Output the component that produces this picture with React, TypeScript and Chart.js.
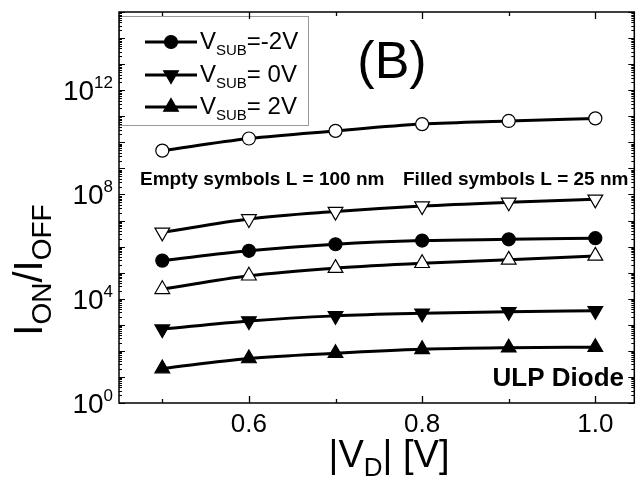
import React, { useEffect, useRef } from 'react';
import { Chart, registerables } from 'chart.js';
Chart.register(...registerables);

// |V_D| [V]
const vdValues = [0.5, 0.6, 0.7, 0.8, 0.9, 1.0];
// L = 100 nm (empty symbols)
const empty_m2V = [4.8e9, 1.4e10, 2.75e10, 5.0e10, 6.6e10, 8.3e10];
const empty_0V = [3.5e6, 1.15e7, 2.2e7, 3.6e7, 5.0e7, 6.5e7];
const empty_p2V = [2.3e4, 7.6e4, 1.5e5, 2.3e5, 3.1e5, 4.4e5];
// L = 25 nm (filled symbols)
const filled_m2V = [2.9e5, 6.9e5, 1.23e6, 1.7e6, 1.9e6, 2.1e6];
const filled_0V = [680, 1400, 2200, 2750, 3150, 3450];
const filled_p2V = [21, 51, 81, 115, 132, 138];

const xTickValues = [0.6, 0.8, 1.0];
const xTickLabels = ['0.6', '0.8', '1.0'];
const xMinorTicks = [0.5, 0.7, 0.9];
const yLabelExponents = [0, 4, 8, 12];
const legendLabels = ['=-2V', '= 0V', '= 2V'];

const FONT = '"Liberation Sans", Arial, Helvetica, sans-serif';

type Seg = { t: string; size: number; dy: number; bold?: boolean };

function segWidth(ctx: CanvasRenderingContext2D, segs: Seg[]) {
  let w = 0;
  for (const s of segs) {
    ctx.font = `${s.bold ? 'bold ' : ''}${s.size}px ${FONT}`;
    w += ctx.measureText(s.t).width;
  }
  return w;
}
function drawSegs(ctx: CanvasRenderingContext2D, segs: Seg[], x: number, y: number) {
  ctx.textAlign = 'left';
  ctx.textBaseline = 'alphabetic';
  let cx = x;
  for (const s of segs) {
    ctx.font = `${s.bold ? 'bold ' : ''}${s.size}px ${FONT}`;
    ctx.fillText(s.t, cx, y + s.dy);
    cx += ctx.measureText(s.t).width;
  }
}

function drawMarker(ctx: CanvasRenderingContext2D, style: string, x: number, y: number, r: number, filled: boolean, rot: number) {
  ctx.save();
  ctx.beginPath();
  if (style === 'circle') {
    ctx.arc(x, y, r, 0, Math.PI * 2);
  } else {
    let a = (rot * Math.PI) / 180;
    for (let i = 0; i < 3; i++) {
      const px = x + Math.sin(a) * r;
      const py = y - Math.cos(a) * r;
      if (i === 0) ctx.moveTo(px, py);
      else ctx.lineTo(px, py);
      a += (2 * Math.PI) / 3;
    }
    ctx.closePath();
  }
  ctx.fillStyle = filled ? '#000' : '#fff';
  ctx.fill();
  ctx.lineWidth = 1.2;
  ctx.strokeStyle = '#000';
  ctx.stroke();
  ctx.restore();
}

const framePlugin = {
  id: 'frameDecor',
  afterDraw(chart: any) {
    const ctx: CanvasRenderingContext2D = chart.ctx;
    const { left, right, top, bottom } = chart.chartArea;
    const xs = chart.scales.x;
    const ys = chart.scales.y;
    ctx.save();
    ctx.strokeStyle = '#000';
    ctx.fillStyle = '#000';

    // legend box
    ctx.lineWidth = 1;
    ctx.strokeStyle = '#999';
    ctx.strokeRect(left + 0.5, 16.5, 189, 109);
    ctx.strokeStyle = '#000';

    // frame
    ctx.lineWidth = 1.5;
    ctx.strokeRect(left, top, right - left, bottom - top);

    // x ticks (inward, bottom and top)
    ctx.lineWidth = 1.3;
    ctx.beginPath();
    for (const v of xTickValues) {
      const px = Math.round(xs.getPixelForValue(v)) + 0.5;
      ctx.moveTo(px, bottom); ctx.lineTo(px, bottom - 7);
      ctx.moveTo(px, top); ctx.lineTo(px, top + 7);
    }
    for (const v of xMinorTicks) {
      const px = Math.round(xs.getPixelForValue(v)) + 0.5;
      ctx.moveTo(px, bottom); ctx.lineTo(px, bottom - 4);
      ctx.moveTo(px, top); ctx.lineTo(px, top + 4);
    }
    ctx.stroke();

    // y ticks (inward, left and right)
    ctx.lineWidth = 1;
    ctx.beginPath();
    for (let d = 0; d <= 15; d++) {
      const py = Math.round(ys.getPixelForValue(Math.pow(10, d))) + 0.5;
      ctx.moveTo(left, py); ctx.lineTo(left + 6, py);
      ctx.moveTo(right, py); ctx.lineTo(right - 6, py);
      if (d < 15) {
        for (let k = 2; k <= 9; k++) {
          const pm = Math.round(ys.getPixelForValue(k * Math.pow(10, d))) + 0.5;
          ctx.moveTo(left, pm); ctx.lineTo(left + 3, pm);
          ctx.moveTo(right, pm); ctx.lineTo(right - 3, pm);
        }
      }
    }
    ctx.stroke();

    // x tick labels
    ctx.font = `26px ${FONT}`;
    ctx.textAlign = 'center';
    ctx.textBaseline = 'alphabetic';
    xTickValues.forEach((v, i) => {
      ctx.fillText(xTickLabels[i], xs.getPixelForValue(v), 432);
    });

    // y tick labels
    for (const e of yLabelExponents) {
      const py = ys.getPixelForValue(Math.pow(10, e));
      const segs: Seg[] = [
        { t: '10', size: 28, dy: 0 },
        { t: String(e), size: 17, dy: -12 },
      ];
      const w = segWidth(ctx, segs);
      drawSegs(ctx, segs, 113 - w, py + 10);
    }

    // x title
    {
      const segs: Seg[] = [
        { t: '|V', size: 38, dy: 0 },
        { t: 'D', size: 26, dy: 9 },
        { t: '| [V]', size: 38, dy: 0 },
      ];
      const w = segWidth(ctx, segs);
      drawSegs(ctx, segs, 389 - w / 2, 467);
    }

    // y title (rotated)
    {
      ctx.save();
      ctx.translate(42, 270);
      ctx.rotate(-Math.PI / 2);
      const segs: Seg[] = [
        { t: 'I', size: 40, dy: 0 },
        { t: 'ON', size: 28, dy: 9 },
        { t: '/I', size: 40, dy: 0 },
        { t: 'OFF', size: 28, dy: 9 },
      ];
      const w = segWidth(ctx, segs);
      drawSegs(ctx, segs, -w / 2, 0);
      ctx.restore();
    }

    // legend entries
    const legendStyles = [
      { style: 'circle', rot: 0, r: 6.5 },
      { style: 'triangle', rot: 180, r: 8.5 },
      { style: 'triangle', rot: 0, r: 8.5 },
    ];
    const rowsY = [42, 75, 107];
    legendStyles.forEach((ls, i) => {
      const cy = rowsY[i];
      ctx.lineWidth = 3;
      ctx.strokeStyle = '#000';
      ctx.beginPath();
      ctx.moveTo(145, cy); ctx.lineTo(197, cy);
      ctx.stroke();
      drawMarker(ctx, ls.style, 171, cy, ls.r, true, ls.rot);
      ctx.fillStyle = '#000';
      drawSegs(ctx, [
        { t: 'V', size: 24, dy: 0 },
        { t: 'SUB', size: 15, dy: 6 },
        { t: legendLabels[i], size: 24, dy: 0 },
      ], 200, cy + 7);
    });

    // annotations
    ctx.fillStyle = '#000';
    ctx.textAlign = 'center';
    ctx.textBaseline = 'middle';
    ctx.font = `52px ${FONT}`;
    ctx.fillText('(B)', 392, 64);
    ctx.font = `bold 19px ${FONT}`;
    ctx.textAlign = 'left';
    ctx.fillText('Empty symbols L = 100 nm', 140, 180);
    ctx.fillText('Filled symbols L = 25 nm', 403, 180);
    ctx.font = `bold 26px ${FONT}`;
    ctx.textAlign = 'right';
    ctx.fillText('ULP Diode', 624, 379);

    ctx.restore();
  },
};

function ds(label: string, data: number[], style: string, rot: number, filled: boolean) {
  return {
    label,
    data: vdValues.map((x, i) => ({ x, y: data[i] })),
    borderColor: '#000',
    borderWidth: 3,
    backgroundColor: filled ? '#000' : '#fff',
    pointStyle: style,
    pointRotation: rot,
    pointRadius: style === 'circle' ? 6.5 : 8.5,
    pointBorderWidth: 1.2,
    pointBorderColor: '#000',
    pointBackgroundColor: filled ? '#000' : '#fff',
    cubicInterpolationMode: 'monotone',
    fill: false,
  };
}

export default function App() {
  const ref = useRef<HTMLCanvasElement | null>(null);
  useEffect(() => {
    if (!ref.current) return;
    const chart = new Chart(ref.current, {
      type: 'line',
      data: {
        datasets: [
          ds('L=100nm VSUB=-2V', empty_m2V, 'circle', 0, false),
          ds('L=100nm VSUB=0V', empty_0V, 'triangle', 180, false),
          ds('L=100nm VSUB=2V', empty_p2V, 'triangle', 0, false),
          ds('L=25nm VSUB=-2V', filled_m2V, 'circle', 0, true),
          ds('L=25nm VSUB=0V', filled_0V, 'triangle', 180, true),
          ds('L=25nm VSUB=2V', filled_p2V, 'triangle', 0, true),
        ] as any,
      },
      options: {
        animation: false,
        responsive: false,
        layout: { padding: { left: 119, right: 2, top: 12, bottom: 78 } },
        plugins: { legend: { display: false }, tooltip: { enabled: false } },
        scales: {
          x: { type: 'linear', min: 0.45, max: 1.045, display: false },
          y: { type: 'logarithmic', min: 1, max: 1e15, display: false },
        },
      } as any,
      plugins: [framePlugin],
    });
    return () => chart.destroy();
  }, []);
  return (
    <div style={{ position: 'fixed', left: 0, top: 0, width: 644, height: 481, background: '#fff' }}>
      <canvas ref={ref} width={644} height={481} style={{ display: 'block' }} />
    </div>
  );
}
